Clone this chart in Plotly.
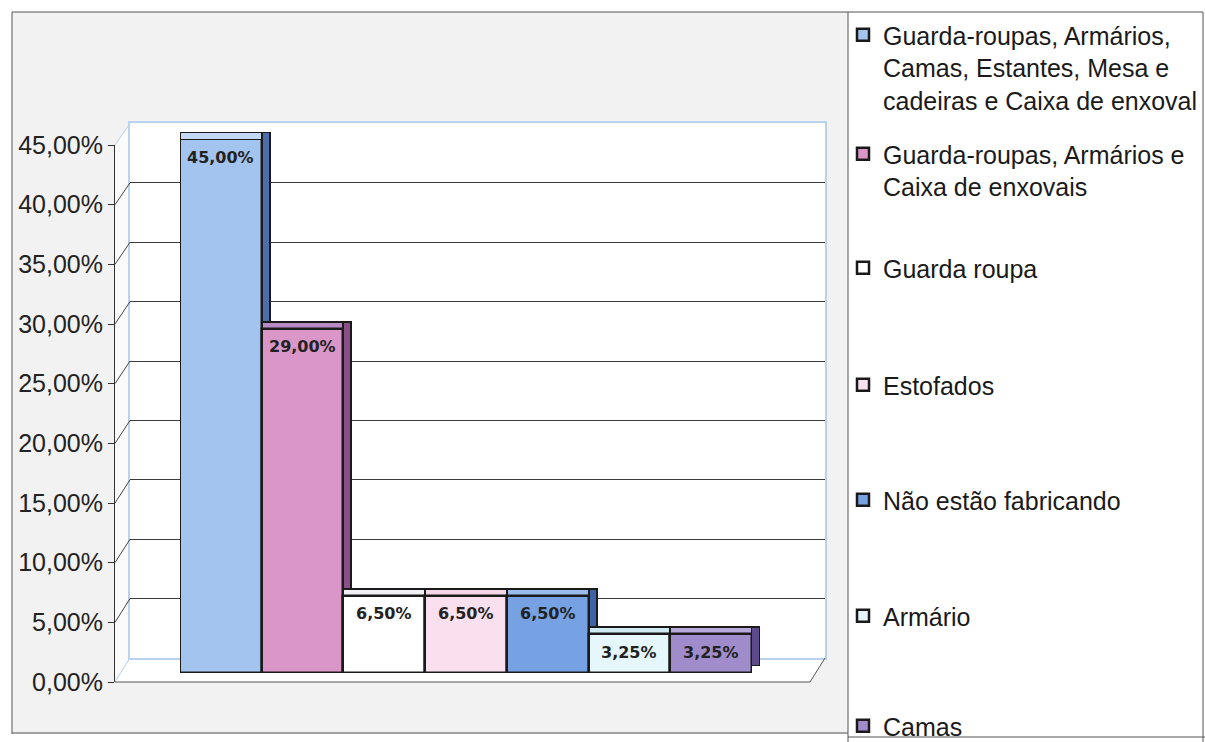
import plotly.graph_objects as go

# ---------------- data ----------------
categories = [
    "Guarda-roupas, Armários,<br>Camas, Estantes, Mesa e<br>cadeiras e Caixa de enxoval",
    "Guarda-roupas, Armários e<br>Caixa de enxovais",
    "Guarda roupa",
    "Estofados",
    "Não estão fabricando",
    "Armário",
    "Camas",
]
values = [0.45, 0.29, 0.065, 0.065, 0.065, 0.0325, 0.0325]
tick_values = [0, 0.05, 0.10, 0.15, 0.20, 0.25, 0.30, 0.35, 0.40, 0.45]

# ---------------- styles ----------------
front_colors = ["#a4c4f0", "#d996c6", "#ffffff", "#fae0ee", "#76a2e4", "#e6f7fb", "#a08ccb"]
top_colors = ["#c3d8f5", "#b98ac6", "#f1eef4", "#f4d8e8", "#9bbbec", "#cfeaf2", "#b9a9db"]
side_colors = ["#4d6ea8", "#8a4f86", "#8c8c9a", "#b893ac", "#3f64a6", "#7fa6b8", "#5d4a8a"]

W, H = 1205, 742


def fx(px):
    return px / W


def fy(py):
    return 1 - py / H


YMAX = tick_values[-1]
# pixel geometry of the pseudo-3D chart
BAR_X0, BAR_X1, BAR_Y0, BAR_Y1 = 180, 752, 673, 139
DEPTH_DX, DEPTH_DY = 8, 7
GRID_X0, GRID_X1, GRID_Y0, GRID_Y1 = 130, 825, 658, 123.4
TICK_X, TICK_Y0, TICK_Y1 = 115, 682, 145


def py_tick(v):
    return TICK_Y0 - v / YMAX * (TICK_Y0 - TICK_Y1)


def py_grid(v):
    return GRID_Y0 - v / YMAX * (GRID_Y0 - GRID_Y1)


xcats = [c.replace("<br>", " ") for c in categories]

fig = go.Figure()

# back wall grid subplot (x, y)
fig.add_trace(go.Scatter(x=[], y=[], xaxis="x", yaxis="y", showlegend=False, hoverinfo="skip"))

# 3D side faces (x2, y2)
for i, c in enumerate(xcats):
    fig.add_trace(go.Bar(
        x=[c], y=[values[i]], xaxis="x2", yaxis="y2", showlegend=False, hoverinfo="skip",
        marker=dict(color=side_colors[i], line=dict(color="#1a1a1a", width=2)),
    ))
# 3D top faces (x3, y3)
for i, c in enumerate(xcats):
    fig.add_trace(go.Bar(
        x=[c], y=[values[i]], xaxis="x3", yaxis="y3", showlegend=False, hoverinfo="skip",
        marker=dict(color=top_colors[i], line=dict(color="#1a1a1a", width=2)),
    ))
# front faces (x4, y4) with legend entries
for i, c in enumerate(xcats):
    fig.add_trace(go.Bar(
        x=[c], y=[values[i]], xaxis="x4", yaxis="y4",
        name=categories[i],
        legend="legend" if i == 0 else f"legend{i+1}",
        marker=dict(color=front_colors[i], line=dict(color="#1a1a1a", width=2.5)),
        hovertemplate="%{y:.2%}<extra></extra>",
    ))

# tick axis subplot (x5, y5)
fig.add_trace(go.Scatter(x=[], y=[], xaxis="x5", yaxis="y5", showlegend=False, hoverinfo="skip"))

light_blue = "#b9d2ee"
hidden_x = dict(showgrid=False, zeroline=False, showticklabels=False, ticks="", showline=False,
                type="category", categoryorder="array", categoryarray=xcats, range=[-0.5, 6.5])
hidden_y = dict(showgrid=False, zeroline=False, showticklabels=False, ticks="", showline=False,
                range=[0, YMAX])

fig.update_layout(
    width=W, height=H,
    margin=dict(l=0, r=0, t=0, b=0, autoexpand=False),
    paper_bgcolor="white",
    plot_bgcolor="rgba(0,0,0,0)",
    separators=",.",
    barmode="overlay",
    bargap=0,
    xaxis=dict(domain=[fx(GRID_X0), fx(GRID_X1)], range=[0, 1], showgrid=False, zeroline=False,
               showticklabels=False, ticks="", showline=True, mirror=True, linecolor=light_blue,
               linewidth=1.5, anchor="y"),
    yaxis=dict(domain=[fy(GRID_Y0), fy(GRID_Y1)], range=[0, YMAX], tickvals=tick_values[1:-1],
               showgrid=True, gridcolor="#3a3a3a", gridwidth=1, zeroline=False,
               showticklabels=False, ticks="", showline=True, mirror=True, linecolor=light_blue,
               linewidth=1.5, anchor="x"),
    xaxis2=dict(hidden_x, domain=[fx(BAR_X0 + DEPTH_DX), fx(BAR_X1 + DEPTH_DX)], anchor="y2"),
    yaxis2=dict(hidden_y, domain=[fy(BAR_Y0 - DEPTH_DY), fy(BAR_Y1 - DEPTH_DY)], anchor="x2"),
    xaxis3=dict(hidden_x, domain=[fx(BAR_X0), fx(BAR_X1)], anchor="y3"),
    yaxis3=dict(hidden_y, domain=[fy(BAR_Y0 - DEPTH_DY), fy(BAR_Y1 - DEPTH_DY)], anchor="x3"),
    xaxis4=dict(hidden_x, domain=[fx(BAR_X0), fx(BAR_X1)], anchor="y4"),
    yaxis4=dict(hidden_y, domain=[fy(BAR_Y0), fy(BAR_Y1)], anchor="x4"),
    xaxis5=dict(domain=[fx(TICK_X), fx(TICK_X + 15)], range=[0, 1], visible=False, anchor="y5"),
    yaxis5=dict(domain=[fy(TICK_Y0), fy(TICK_Y1)], range=[0, YMAX], tickvals=tick_values,
                tickformat=".2%", ticks="outside", ticklen=6, tickcolor="#333333",
                showline=True, linecolor="#333333", linewidth=1, showgrid=False, zeroline=False,
                anchor="x5", side="left",
                tickfont=dict(family="Liberation Sans, Arial, sans-serif", size=25, color="#222222")),
)

# value labels inside the top of each bar
for i, c in enumerate(xcats):
    fig.add_annotation(
        x=c, y=values[i], xref="x4", yref="y4", yanchor="middle", yshift=-18,
        text=f"{values[i] * 100:.2f}%".replace(".", ","), showarrow=False,
        font=dict(family="DejaVu Sans", size=16, color="#222222", weight="bold"),
    )

# legends: one per entry, placed to match the original spacing
legend_centers = [36, 155, 269, 386, 501, 617, 727]
for i, cy in enumerate(legend_centers):
    key = "legend" if i == 0 else f"legend{i+1}"
    fig.layout[key] = dict(
        x=fx(843), y=fy(cy - 24), xanchor="left", yanchor="top",
        bgcolor="rgba(0,0,0,0)", borderwidth=0, valign="top",
        font=dict(family="Liberation Sans, Arial, sans-serif", size=25, color="#1a1a1a"),
    )

shapes = []
# chart area background (scanned grey)
shapes.append(dict(type="rect", xref="paper", yref="paper", x0=fx(12), x1=fx(848), y0=fy(734), y1=fy(12),
                   fillcolor="#f2f2f2", line=dict(width=0), layer="below"))
# back wall white
shapes.append(dict(type="rect", xref="x domain", yref="y domain", x0=0, x1=1, y0=0, y1=1,
                   fillcolor="white", line=dict(width=0), layer="below"))
# left side wall
shapes.append(dict(type="path", xref="paper", yref="paper",
                   path=f"M{fx(TICK_X)},{fy(py_tick(0))} L{fx(GRID_X0)},{fy(py_grid(0))} "
                        f"L{fx(GRID_X0)},{fy(py_grid(YMAX))} L{fx(TICK_X)},{fy(py_tick(YMAX))} Z",
                   fillcolor="#fbfbfb", line=dict(width=0), layer="below"))
# floor
shapes.append(dict(type="path", xref="paper", yref="paper",
                   path=f"M{fx(TICK_X)},{fy(py_tick(0))} L{fx(810)},{fy(py_tick(0))} "
                        f"L{fx(GRID_X1)},{fy(py_grid(0))} L{fx(GRID_X0)},{fy(py_grid(0))} Z",
                   fillcolor="white", line=dict(width=0), layer="below"))
# side wall connectors
for v in tick_values:
    col = light_blue if v in (tick_values[0], tick_values[-1]) else "#444444"
    shapes.append(dict(type="line", xref="paper", yref="paper",
                       x0=fx(TICK_X), y0=fy(py_tick(v)), x1=fx(GRID_X0), y1=fy(py_grid(v)),
                       line=dict(color=col, width=1)))
# floor front edge
shapes.append(dict(type="path", xref="paper", yref="paper",
                   path=f"M{fx(TICK_X)},{fy(py_tick(0))} L{fx(810)},{fy(py_tick(0))} "
                        f"L{fx(GRID_X1)},{fy(py_grid(0))}",
                   line=dict(color="#555555", width=1)))
# outer frame and legend box
frame = "#555555"
for (x0, y0, x1, y1) in [(12, 12, 1203, 12), (12, 12, 12, 734), (12, 733, 848, 733),
                         (848, 12, 848, 742), (848, 737, 1205, 737), (1203, 12, 1203, 742)]:
    shapes.append(dict(type="line", xref="paper", yref="paper", x0=fx(x0), x1=fx(x1), y0=fy(y0), y1=fy(y1),
                       line=dict(color=frame, width=1)))
fig.update_layout(shapes=shapes)

fig.write_html("out.html", config={"displayModeBar": False},
               post_script="document.body.style.margin='0';document.body.style.overflow='hidden';")
